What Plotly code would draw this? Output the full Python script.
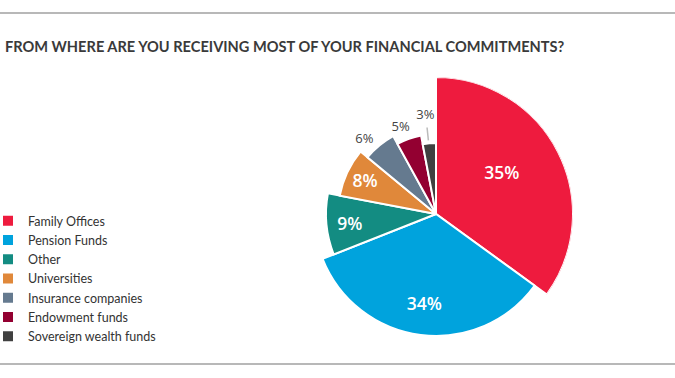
import plotly.graph_objects as go

categories = ["Family Offices", "Pension Funds", "Other", "Universities",
              "Insurance companies", "Endowment funds", "Sovereign wealth funds"]
shares = [35, 34, 9, 8, 6, 5, 3]
radii = [137, 122, 110, 98, 89, 80, 71]
colors = ["#EE1B3E", "#00A3DD", "#138C82", "#E0883A", "#657A8F", "#930031", "#404040"]
label_text = ["35%", "34%", "9%", "8%", "6%", "5%", "3%"]

# angular geometry derived from shares
total = sum(shares)
widths = [s / total * 360 for s in shares]
starts = []
acc = 0
for w in widths:
    starts.append(acc)
    acc += w
centers = [s + w / 2 for s, w in zip(starts, widths)]

fig = go.Figure()
for i, cat in enumerate(categories):
    fig.add_trace(go.Barpolar(
        r=[radii[i]], theta=[centers[i]], width=[widths[i]],
        name=cat, marker=dict(color=colors[i], line=dict(color="white", width=2)),
        hoverinfo="name"))

# label placement: fraction of slice radius (inside) or offset beyond it (outside)
inside = [True, True, True, True, False, False, False]
in_frac = [0.56, 0.76, 0.79, 0.79]
in_dtheta = [-4, 0, -2, -1.5]
out_extra = [14, 13, 28]
out_dtheta = [-4.5, -2.5, -0.8]
lab_r, lab_t = [], []
for i in range(len(shares)):
    if inside[i]:
        lab_r.append(radii[i] * in_frac[i])
        lab_t.append(centers[i] + in_dtheta[i])
    else:
        lab_r.append(radii[i] + out_extra[i - 4])
        lab_t.append(centers[i] + out_dtheta[i - 4])

fig.add_trace(go.Scatterpolar(
    r=lab_r[:4], theta=lab_t[:4],
    text=label_text[:4], mode="text", showlegend=False, hoverinfo="skip",
    textfont=dict(family="Open Sans", size=17.5, color="white", weight=600)))
fig.add_trace(go.Scatterpolar(
    r=lab_r[4:], theta=lab_t[4:],
    text=label_text[4:], mode="text", showlegend=False, hoverinfo="skip",
    textfont=dict(family="Open Sans", size=13, color="#444444")))
# leader line for smallest slice
fig.add_trace(go.Scatterpolar(
    r=[radii[6] + 3, radii[6] + 16], theta=[centers[6] - 0.5, centers[6] - 0.5],
    mode="lines", line=dict(color="#BBBBBB", width=1.5),
    showlegend=False, hoverinfo="skip"))

cx, cy, R = 436, 214, 137
W, H = 675, 378
fig.update_layout(
    width=W, height=H,
    margin=dict(l=0, r=0, t=0, b=0, autoexpand=False),
    paper_bgcolor="white", plot_bgcolor="white",
    font=dict(family="Lato", color="#333333"),
    polar=dict(
        domain=dict(x=[(cx - R) / W, (cx + R) / W], y=[(H - cy - R) / H, (H - cy + R) / H]),
        bgcolor="white",
        radialaxis=dict(range=[0, R], visible=False),
        angularaxis=dict(rotation=90, direction="clockwise", visible=False),
    ),
    legend=dict(x=-12 / W, y=(H - 206) / H, xanchor="left", yanchor="top",
                font=dict(family="Lato", size=12.5, color="#333333"),
                bgcolor="rgba(0,0,0,0)", tracegroupgap=0),
    showlegend=True,
    shapes=[
        dict(type="line", xref="paper", yref="paper", x0=0, x1=1,
             y0=(H - 13) / H, y1=(H - 13) / H, line=dict(color="#A0A0A0", width=1.5)),
        dict(type="line", xref="paper", yref="paper", x0=0, x1=1,
             y0=(H - 364) / H, y1=(H - 364) / H, line=dict(color="#A0A0A0", width=1.5)),
    ],
    annotations=[dict(
        text="<b>FROM WHERE ARE YOU RECEIVING MOST OF YOUR FINANCIAL COMMITMENTS?</b>",
        xref="paper", yref="paper", x=3 / W, y=(H - 46) / H, xanchor="left", yanchor="middle",
        showarrow=False, font=dict(family="Lato", size=14.6, color="#3A3A3A"))],
)
fig.write_html("out.html", config={"displayModeBar": False},
               post_script="document.body.style.margin='0';")
